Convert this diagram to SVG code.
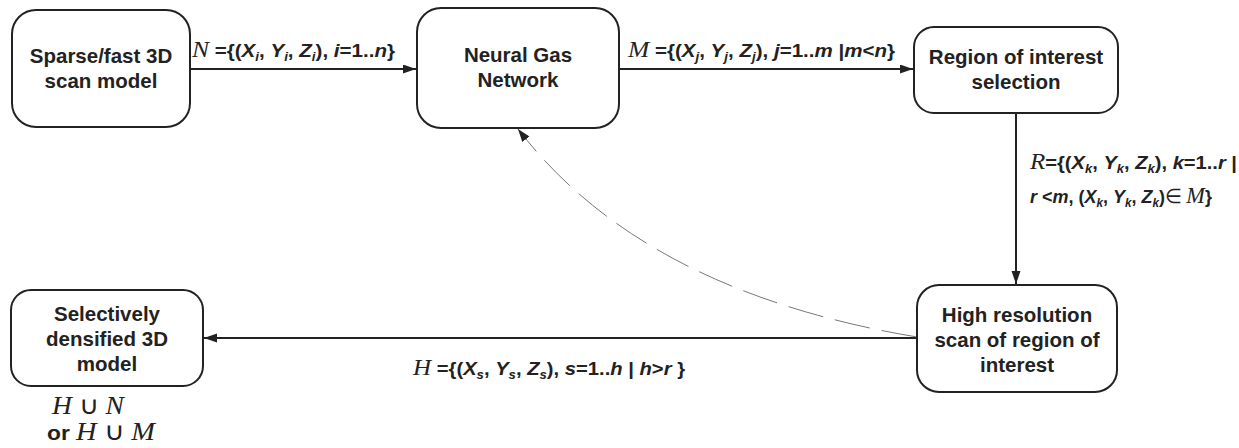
<svg xmlns="http://www.w3.org/2000/svg" width="1239" height="448" viewBox="0 0 1239 448">
<style>
.bg{fill:#fff}
.box{fill:#fff;stroke:#222;stroke-width:2}
.nt{font-family:"Liberation Sans",Arial,sans-serif;font-weight:bold;font-size:20.5px;fill:#222;text-anchor:middle}
.lb{font-family:"Liberation Sans",Arial,sans-serif;font-weight:bold;font-size:18.5px;fill:#222}
.m{font-family:"Liberation Serif","Times New Roman",serif;font-style:italic;font-weight:normal;font-size:23px}
.sr{font-family:"Liberation Serif","Times New Roman",serif;font-weight:normal;font-size:20px}
.v{font-style:italic}
.s{font-style:italic;font-size:12px}
.e{stroke:#222;stroke-width:2;fill:none}
.d{stroke:#777;stroke-width:1;stroke-dasharray:36 12;fill:none}
.u{font-size:25px}
</style>
<defs>
<marker id="ah" markerUnits="userSpaceOnUse" markerWidth="14" markerHeight="10" refX="13" refY="4.5" orient="auto">
<path d="M0,0 L13,4.5 L0,9 z" fill="#222"/>
</marker>
<marker id="ahd" markerUnits="userSpaceOnUse" markerWidth="14" markerHeight="10" refX="13" refY="4.5" orient="auto">
<path d="M0,0 L13,4.5 L0,9 z" fill="#222"/>
</marker>
</defs>
<rect class="bg" x="0" y="0" width="1239" height="448"/>

<g id="connectors">
<line class="e" x1="190" y1="69" x2="416" y2="69" marker-end="url(#ah)"/>
<line class="e" x1="619" y1="69" x2="913" y2="69" marker-end="url(#ah)"/>
<line class="e" x1="1016" y1="113" x2="1016" y2="284" marker-end="url(#ah)"/>
<line class="e" x1="917" y1="338" x2="204" y2="338" marker-end="url(#ah)"/>
<path class="d" d="M917,337 Q642,291 518,129" marker-end="url(#ahd)"/>

<text class="lb" x="192" y="57" textLength="203" lengthAdjust="spacingAndGlyphs"><tspan class="m">N</tspan><tspan> ={(</tspan><tspan class="v">X</tspan><tspan class="s" dy="4">i</tspan><tspan dy="-4">, </tspan><tspan class="v">Y</tspan><tspan class="s" dy="4">i</tspan><tspan dy="-4">, </tspan><tspan class="v">Z</tspan><tspan class="s" dy="4">i</tspan><tspan dy="-4">), </tspan><tspan class="v">i</tspan><tspan>=1..</tspan><tspan class="v">n</tspan><tspan>}</tspan></text>

<text class="lb" x="628" y="57" textLength="267" lengthAdjust="spacingAndGlyphs"><tspan class="m">M</tspan><tspan> ={(</tspan><tspan class="v">X</tspan><tspan class="s" dy="4">j</tspan><tspan dy="-4">, </tspan><tspan class="v">Y</tspan><tspan class="s" dy="4">j</tspan><tspan dy="-4">, </tspan><tspan class="v">Z</tspan><tspan class="s" dy="4">j</tspan><tspan dy="-4">), </tspan><tspan class="v">j</tspan><tspan>=1..</tspan><tspan class="v">m</tspan><tspan> |</tspan><tspan class="v">m</tspan><tspan>&lt;</tspan><tspan class="v">n</tspan><tspan>}</tspan></text>

<text class="lb" x="1030" y="169" textLength="207" lengthAdjust="spacingAndGlyphs"><tspan class="m">R</tspan><tspan>={(</tspan><tspan class="v">X</tspan><tspan class="s" dy="4">k</tspan><tspan dy="-4">, </tspan><tspan class="v">Y</tspan><tspan class="s" dy="4">k</tspan><tspan dy="-4">, </tspan><tspan class="v">Z</tspan><tspan class="s" dy="4">k</tspan><tspan dy="-4">), </tspan><tspan class="v">k</tspan><tspan>=1..</tspan><tspan class="v">r</tspan><tspan> |</tspan></text>
<text class="lb" x="1030" y="203" textLength="182" lengthAdjust="spacingAndGlyphs"><tspan class="v">r</tspan><tspan> &lt;</tspan><tspan class="v">m</tspan><tspan>, (</tspan><tspan class="v">X</tspan><tspan class="s" dy="4">k</tspan><tspan dy="-4">, </tspan><tspan class="v">Y</tspan><tspan class="s" dy="4">k</tspan><tspan dy="-4">, </tspan><tspan class="v">Z</tspan><tspan class="s" dy="4">k</tspan><tspan dy="-4">)</tspan><tspan class="sr">∈ </tspan><tspan class="m">M</tspan><tspan>}</tspan></text>

<text class="lb" x="413" y="375" textLength="272" lengthAdjust="spacingAndGlyphs"><tspan class="m">H</tspan><tspan> ={(</tspan><tspan class="v">X</tspan><tspan class="s" dy="4">s</tspan><tspan dy="-4">, </tspan><tspan class="v">Y</tspan><tspan class="s" dy="4">s</tspan><tspan dy="-4">, </tspan><tspan class="v">Z</tspan><tspan class="s" dy="4">s</tspan><tspan dy="-4">), </tspan><tspan class="v">s</tspan><tspan>=1..</tspan><tspan class="v">h</tspan><tspan> | </tspan><tspan class="v">h</tspan><tspan>&gt;</tspan><tspan class="v">r</tspan><tspan> }</tspan></text>
</g>

<g id="sparse">
<rect class="box" x="12" y="10" width="178" height="117" rx="24"/>
<text class="nt" x="101" y="63">Sparse/fast 3D</text>
<text class="nt" x="101" y="88">scan model</text>
</g>
<g id="neural">
<rect class="box" x="417" y="8" width="202" height="120" rx="24"/>
<text class="nt" x="518" y="62">Neural Gas</text>
<text class="nt" x="518" y="87">Network</text>
</g>
<g id="roi">
<rect class="box" x="914" y="27" width="204" height="86" rx="20"/>
<text class="nt" x="1016" y="64">Region of interest</text>
<text class="nt" x="1016" y="89">selection</text>
</g>
<g id="highres">
<rect class="box" x="917" y="285" width="200" height="107" rx="22"/>
<text class="nt" x="1017" y="322">High resolution</text>
<text class="nt" x="1017" y="347">scan of region of</text>
<text class="nt" x="1017" y="372">interest</text>
</g>
<g id="dense">
<rect class="box" x="11" y="290" width="192" height="96" rx="20"/>
<text class="nt" x="107" y="321">Selectively</text>
<text class="nt" x="107" y="346">densified 3D</text>
<text class="nt" x="107" y="371">model</text>
<text class="lb" x="52" y="414" textLength="72" lengthAdjust="spacingAndGlyphs"><tspan class="m u">H</tspan><tspan class="sr u"> ∪ </tspan><tspan class="m u">N</tspan></text>
<text class="lb" x="47" y="440" style="font-size:20px" textLength="108" lengthAdjust="spacingAndGlyphs"><tspan>or </tspan><tspan class="m u">H</tspan><tspan class="sr u"> ∪ </tspan><tspan class="m u">M</tspan></text>
</g>
</svg>
